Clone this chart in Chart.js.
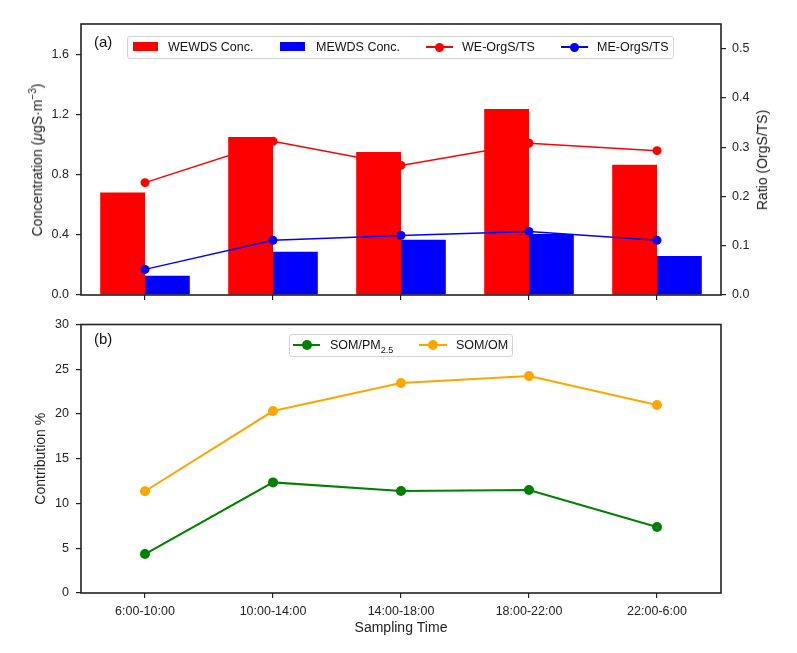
<!DOCTYPE html>
<html><head><meta charset="utf-8">
<script src="https://cdn.jsdelivr.net/npm/chart.js@4.4.1/dist/chart.umd.min.js"></script>
<style>
body{margin:0;background:#fff;width:797px;height:653px;overflow:hidden;position:relative;font-family:"Liberation Sans",Arial,sans-serif;color:#222;}
.wrap{position:absolute;left:0;width:797px;}
.lg{position:absolute;background:rgba(255,255,255,0.8);border:1px solid #d3d3d3;border-radius:3px;box-sizing:border-box;}
.it{position:absolute;font-size:12.5px;line-height:14px;white-space:nowrap;color:#111;}
.sw{position:absolute;}
.ln{position:absolute;height:2px;}
.dt{position:absolute;border-radius:50%;}
.pl{position:absolute;font-size:15px;color:#111;}
.vt{position:absolute;font-size:14px;line-height:16px;white-space:nowrap;color:#222;transform:translate(-50%,-50%) rotate(-90deg);}
</style></head><body>
<div class="wrap" style="top:0;height:310px"><canvas id="c1"></canvas></div>
<div class="wrap" style="top:310px;height:343px"><canvas id="c2"></canvas></div>

<div class="vt" style="left:37px;top:159.5px">Concentration (<i>μ</i>gS·m<sup style="font-size:10px;line-height:0">−3</sup>)</div>
<div class="vt" style="left:762px;top:159.5px">Ratio (OrgS/TS)</div>

<div class="pl" style="left:94px;top:33px">(a)</div>
<div class="pl" style="left:94px;top:330px">(b)</div>

<div class="lg" style="left:127px;top:36px;width:547px;height:23px"></div>
<div class="sw" style="left:133px;top:42px;width:25px;height:9px;background:#ff0000"></div>
<div class="it" style="left:168px;top:40px">WEWDS Conc.</div>
<div class="sw" style="left:280px;top:42px;width:25px;height:9px;background:#0000ff"></div>
<div class="it" style="left:316px;top:40px">MEWDS Conc.</div>
<div class="ln" style="left:426px;top:46px;width:27px;background:#ff0000"></div>
<div class="dt" style="left:434.5px;top:42.5px;width:9px;height:9px;background:#ff0000"></div>
<div class="it" style="left:462px;top:40px">WE-OrgS/TS</div>
<div class="ln" style="left:561px;top:46px;width:27px;background:#0000ff"></div>
<div class="dt" style="left:569.5px;top:42.5px;width:9px;height:9px;background:#0000ff"></div>
<div class="it" style="left:597px;top:40px">ME-OrgS/TS</div>

<div class="lg" style="left:289px;top:334px;width:224px;height:23px"></div>
<div class="ln" style="left:293px;top:344px;width:27px;background:#008000"></div>
<div class="dt" style="left:301.5px;top:340px;width:10px;height:10px;background:#008000"></div>
<div class="it" style="left:330px;top:338px">SOM/PM<sub style="font-size:9px;line-height:0">2.5</sub></div>
<div class="ln" style="left:419px;top:344px;width:28px;background:#ffa500"></div>
<div class="dt" style="left:428px;top:340px;width:10px;height:10px;background:#ffa500"></div>
<div class="it" style="left:456px;top:338px">SOM/OM</div>

<script>
const categories = ["6:00-10:00", "10:00-14:00", "14:00-18:00", "18:00-22:00", "22:00-6:00"];
const wewdsConc = [0.68, 1.05, 0.95, 1.235, 0.865];
const mewdsConc = [0.128, 0.288, 0.367, 0.405, 0.259];
const weRatio = [0.228, 0.312, 0.263, 0.308, 0.293];
const meRatio = [0.052, 0.111, 0.121, 0.129, 0.111];
const somPm = [4.35, 12.36, 11.4, 11.5, 7.38];
const somOm = [11.37, 20.33, 23.47, 24.24, 21.0];
const concTicks = [0, 0.4, 0.8, 1.2, 1.6];
const ratioTicks = [0, 0.1, 0.2, 0.3, 0.4, 0.5];
const contribTicks = [0, 5, 10, 15, 20, 25, 30];

const FAM = "'Liberation Sans', Arial, sans-serif";
const DARK = '#222';
const tickFont = {family: FAM, size: 12.5};
const titleFont = {family: FAM, size: 14};

const frame = {
  id: 'frame',
  afterDatasetsDraw(chart) {
    const {ctx, chartArea: a} = chart;
    ctx.save();
    ctx.strokeStyle = DARK;
    ctx.lineWidth = 1.6;
    ctx.strokeRect(a.left, a.top, a.right - a.left, a.bottom - a.top);
    ctx.restore();
  }
};

function gridOpts() {
  return {drawOnChartArea: false, drawTicks: true, tickLength: 5, color: DARK, lineWidth: 1.2};
}

new Chart(document.getElementById('c1'), {
  data: {
    labels: categories,
    datasets: [
      {type: 'line', label: 'WE-OrgS/TS', data: weRatio, yAxisID: 'yR', borderColor: '#ff0000', backgroundColor: '#ff0000',
       borderWidth: 1.5, pointRadius: 4.5, pointBorderWidth: 0, order: 0},
      {type: 'line', label: 'ME-OrgS/TS', data: meRatio, yAxisID: 'yR', borderColor: '#0000ff', backgroundColor: '#0000ff',
       borderWidth: 1.5, pointRadius: 4.5, pointBorderWidth: 0, order: 0},
      {type: 'bar', label: 'WEWDS Conc.', data: wewdsConc, yAxisID: 'y', backgroundColor: '#ff0000',
       categoryPercentage: 0.7, barPercentage: 1.0, order: 1},
      {type: 'bar', label: 'MEWDS Conc.', data: mewdsConc, yAxisID: 'y', backgroundColor: '#0000ff',
       categoryPercentage: 0.7, barPercentage: 1.0, order: 1}
    ]
  },
  options: {
    responsive: true, maintainAspectRatio: false, animation: false,
    layout: {padding: {top: 24, left: 0, right: 0, bottom: 0}},
    plugins: {legend: {display: false}, tooltip: {enabled: false}},
    scales: {
      x: {type: 'category', offset: true, grid: Object.assign(gridOpts(), {offset: false}), border: {display: false},
          ticks: {display: false}, afterFit(s) { s.height = 15; }},
      y: {position: 'left', min: 0, max: 1.8,
          afterBuildTicks(s) { s.ticks = concTicks.map(v => ({value: v})); },
          ticks: {callback: v => Number(v).toFixed(1), padding: 7, color: DARK, font: tickFont},
          grid: gridOpts(), border: {display: false},
          afterFit(s) { s.width = 81; }},
      yR: {position: 'right', min: 0, max: 0.55,
          afterBuildTicks(s) { s.ticks = ratioTicks.map(v => ({value: v})); },
          ticks: {callback: v => Number(v).toFixed(1), padding: 6, color: DARK, font: tickFont},
          grid: gridOpts(), border: {display: false},
          afterFit(s) { s.width = 76; }}
    }
  },
  plugins: [frame]
});

new Chart(document.getElementById('c2'), {
  type: 'line',
  data: {
    labels: categories,
    datasets: [
      {label: 'SOM/PM2.5', data: somPm, borderColor: '#008000', backgroundColor: '#008000', borderWidth: 2,
       pointRadius: 5, pointBorderWidth: 0},
      {label: 'SOM/OM', data: somOm, borderColor: '#ffa500', backgroundColor: '#ffa500', borderWidth: 2,
       pointRadius: 5, pointBorderWidth: 0}
    ]
  },
  options: {
    responsive: true, maintainAspectRatio: false, animation: false,
    layout: {padding: {top: 12, left: 0, right: 76, bottom: 0}},
    plugins: {legend: {display: false}, tooltip: {enabled: false}},
    scales: {
      x: {type: 'category', offset: true, grid: Object.assign(gridOpts(), {offset: false}), border: {display: false},
          ticks: {color: DARK, font: tickFont, padding: 6, maxRotation: 0, minRotation: 0},
          title: {display: true, text: 'Sampling Time', color: DARK, font: titleFont, padding: {top: 0, bottom: 16}},
          afterFit(s) { s.height = 60; }},
      y: {position: 'left', min: 0, max: 30,
          afterBuildTicks(s) { s.ticks = contribTicks.map(v => ({value: v})); },
          ticks: {callback: v => String(v), padding: 7, color: DARK, font: tickFont},
          grid: gridOpts(), border: {display: false},
          title: {display: true, text: 'Contribution %', color: DARK, font: titleFont, padding: {top: 32.6, bottom: 0}},
          afterFit(s) { s.width = 81; }}
    }
  },
  plugins: [frame]
});
</script>
</body></html>
